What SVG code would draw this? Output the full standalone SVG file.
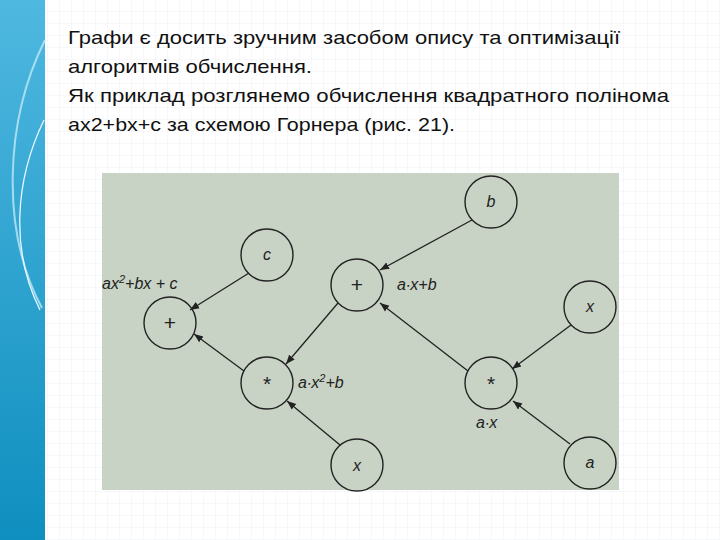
<svg xmlns="http://www.w3.org/2000/svg" width="720" height="540" viewBox="0 0 720 540">
<defs>
<linearGradient id="side" x1="0" y1="0" x2="0" y2="1"><stop offset="0" stop-color="#4fb8e0"/><stop offset="1" stop-color="#0f8fbf"/></linearGradient>
<pattern id="grid" width="12" height="12" patternUnits="userSpaceOnUse"><path d="M12 0V12H0" fill="none" stroke="#eef0f2" stroke-width="1"/></pattern>
<marker id="ar" viewBox="0 0 10 10" refX="10" refY="5" markerWidth="7" markerHeight="7" orient="auto"><path d="M0 1L10 5L0 9z" fill="#222"/></marker>
</defs>
<style>
.t{font-family:"Liberation Sans",Arial,sans-serif;font-size:19px;fill:#111}
.n circle{fill:none;stroke:#222;stroke-width:1.4}
.n text{font-family:"Liberation Sans",Arial,sans-serif;font-size:16px;font-style:italic;fill:#222;text-anchor:middle}
.op{font-style:normal!important;font-size:21px!important}
.lb{font-family:"Liberation Sans",Arial,sans-serif;font-size:16px;font-style:italic;fill:#222}
#edges line{stroke:#222;stroke-width:1.3;marker-end:url(#ar)}
</style>
<rect width="720" height="540" fill="#fff"/>
<rect x="45" width="675" height="540" fill="url(#grid)"/>
<rect width="45" height="540" fill="url(#side)"/>
<path d="M45 40 C5 120 0 230 42 308" fill="none" stroke="#bfe8f7" stroke-width="2" opacity="0.8"/>
<path d="M44 120 C15 180 10 250 40 310" fill="none" stroke="#e8f8ff" stroke-width="1.3"/>
<text class="t" x="68" y="44" textLength="552" lengthAdjust="spacingAndGlyphs">Графи є досить зручним засобом опису та оптимізації</text>
<text class="t" x="68" y="73" textLength="244" lengthAdjust="spacingAndGlyphs">алгоритмів обчислення.</text>
<text class="t" x="68" y="102" textLength="601" lengthAdjust="spacingAndGlyphs">Як приклад розглянемо обчислення квадратного полінома</text>
<text class="t" x="68" y="131" textLength="387" lengthAdjust="spacingAndGlyphs">ax2+bx+c за схемою Горнера (рис. 21).</text>
<rect x="102" y="173" width="517" height="317" fill="#c8d3c5"/>
<g id="edges">
<line x1="249" y1="273" x2="190" y2="310"/>
<line x1="244" y1="371" x2="194" y2="334"/>
<line x1="338" y1="303" x2="286" y2="364"/>
<line x1="340" y1="445" x2="287" y2="401"/>
<line x1="472" y1="220" x2="380" y2="270"/>
<line x1="468" y1="371" x2="380" y2="303"/>
<line x1="571" y1="325" x2="512" y2="369"/>
<line x1="570" y1="444" x2="513" y2="401"/>
</g>
<g id="n-c" class="n"><circle cx="267" cy="255" r="26"/><text x="267" y="260">c</text></g>
<g id="n-plus1" class="n"><circle cx="170" cy="323" r="26"/><text class="op" x="170" y="330">+</text></g>
<g id="n-mul1" class="n"><circle cx="267" cy="383" r="26"/><text class="op" x="267" y="391">*</text></g>
<g id="n-x1" class="n"><circle cx="357" cy="465" r="26"/><text x="357" y="471">x</text></g>
<g id="n-plus2" class="n"><circle cx="357" cy="285" r="26"/><text class="op" x="357" y="292">+</text></g>
<g id="n-b" class="n"><circle cx="491" cy="202" r="26"/><text x="491" y="207">b</text></g>
<g id="n-x2" class="n"><circle cx="590" cy="307" r="26"/><text x="590" y="312">x</text></g>
<g id="n-mul2" class="n"><circle cx="491" cy="383" r="26"/><text class="op" x="491" y="391">*</text></g>
<g id="n-a" class="n"><circle cx="590" cy="463" r="26"/><text x="590" y="468">a</text></g>
<text class="lb" x="102" y="289">ax<tspan dy="-6" font-size="11">2</tspan><tspan dy="6">+bx + c</tspan></text>
<text class="lb" x="397" y="290">a∙x+b</text>
<text class="lb" x="298" y="388">a∙x<tspan dy="-6" font-size="11">2</tspan><tspan dy="6">+b</tspan></text>
<text class="lb" x="476" y="428">a∙x</text>
</svg>
